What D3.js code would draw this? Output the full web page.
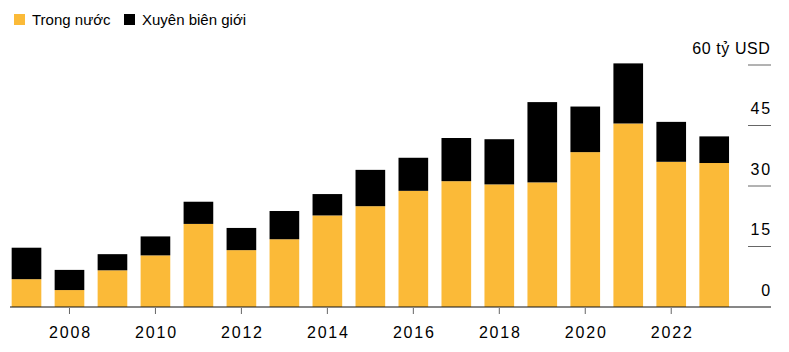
<!DOCTYPE html>
<html>
<head>
<meta charset="utf-8">
<script src="https://cdn.jsdelivr.net/npm/d3@7"></script>
<style>
  body { margin: 0; background: #fff; }
  svg { display: block; font-family: "Liberation Sans", Arial, sans-serif; }
</style>
</head>
<body>
<svg id="chart"></svg>
<script>
// values (tỷ USD)
const years = [2007, 2008, 2009, 2010, 2011, 2012, 2013, 2014, 2015, 2016, 2017, 2018, 2019, 2020, 2021, 2022, 2023];
const domestic = [6.9, 4.2, 9.1, 12.8, 20.6, 14.1, 16.8, 22.7, 25.0, 28.8, 31.2, 30.4, 30.9, 38.4, 45.5, 36.0, 35.7];
const crossBorder = [7.8, 5.0, 4.0, 4.7, 5.5, 5.5, 7.0, 5.3, 9.0, 8.2, 10.7, 11.2, 19.9, 11.3, 14.9, 9.9, 6.6];
const yTicks = [0, 15, 30, 45, 60];
const xTickYears = [2008, 2010, 2012, 2014, 2016, 2018, 2020, 2022];
const seriesNames = ["Trong nước", "Xuyên biên giới"];
const unitLabel = "tỷ USD";

const width = 789, height = 352;
const colors = { domestic: "#fbba38", cross: "#000000" };

const svg = d3.select("#chart")
    .attr("width", width)
    .attr("height", height);

const rows = years.map((y, i) => ({ year: y, domestic: domestic[i], cross: crossBorder[i] }));
const stack = d3.stack().keys(["domestic", "cross"])(rows);

const x = d3.scaleBand()
    .domain(years)
    .range([5, 735.7])
    .paddingInner(0.31)
    .paddingOuter(0.155);

const y = d3.scaleLinear()
    .domain([0, 60])
    .range([307, 65]);

// right side gridline stubs + labels
const grid = svg.append("g");
grid.selectAll("line")
    .data(yTicks.filter(d => d > 0))
    .enter().append("line")
    .attr("x1", 748).attr("x2", 771)
    .attr("y1", d => y(d)).attr("y2", d => y(d))
    .attr("stroke", "#666")
    .attr("stroke-width", 1);

grid.selectAll("text")
    .data(yTicks)
    .enter().append("text")
    .attr("x", d => d === 60 ? 770.5 : 772)
    .attr("y", d => y(d) - 11.5)
    .attr("text-anchor", "end")
    .attr("font-size", 16)
    .attr("letter-spacing", d => d === 60 ? 0.6 : 1.8)
    .attr("fill", "#000")
    .text(d => d === 60 ? `${d} ${unitLabel}` : d);

// bars
svg.append("g")
    .selectAll("g")
    .data(stack)
    .enter().append("g")
    .attr("fill", d => d.key === "domestic" ? colors.domestic : colors.cross)
    .selectAll("rect")
    .data(d => d)
    .enter().append("rect")
    .attr("x", d => x(d.data.year))
    .attr("width", x.bandwidth())
    .attr("y", d => y(d[1]))
    .attr("height", d => y(d[0]) - y(d[1]));

// x axis
const xAxis = svg.append("g").attr("transform", `translate(0,${y(0)})`);
xAxis.append("line")
    .attr("x1", 10).attr("x2", 771)
    .attr("stroke", "#111").attr("stroke-width", 1.2);
xAxis.selectAll(".tick")
    .data(xTickYears)
    .enter().append("line")
    .attr("class", "tick")
    .attr("x1", d => x(d) + x.bandwidth() / 2)
    .attr("x2", d => x(d) + x.bandwidth() / 2)
    .attr("y1", 1).attr("y2", 7)
    .attr("stroke", "#666");
xAxis.selectAll(".lbl")
    .data(xTickYears)
    .enter().append("text")
    .attr("class", "lbl")
    .attr("x", d => x(d) + x.bandwidth() / 2 + 1)
    .attr("y", 31)
    .attr("text-anchor", "middle")
    .attr("font-size", 16)
    .attr("letter-spacing", 1.8)
    .attr("fill", "#000")
    .text(d => d);

// legend
const legend = svg.append("g");
const legendItems = [
    { name: seriesNames[0], color: colors.domestic, x: 14 },
    { name: seriesNames[1], color: colors.cross, x: 124 }
];
legendItems.forEach(it => {
    legend.append("rect")
        .attr("x", it.x).attr("y", 14)
        .attr("width", 11).attr("height", 11)
        .attr("fill", it.color);
    legend.append("text")
        .attr("x", it.x + 18).attr("y", 25)
        .attr("font-size", 15)
        .attr("fill", "#000")
        .text(it.name);
});
</script>
</body>
</html>
